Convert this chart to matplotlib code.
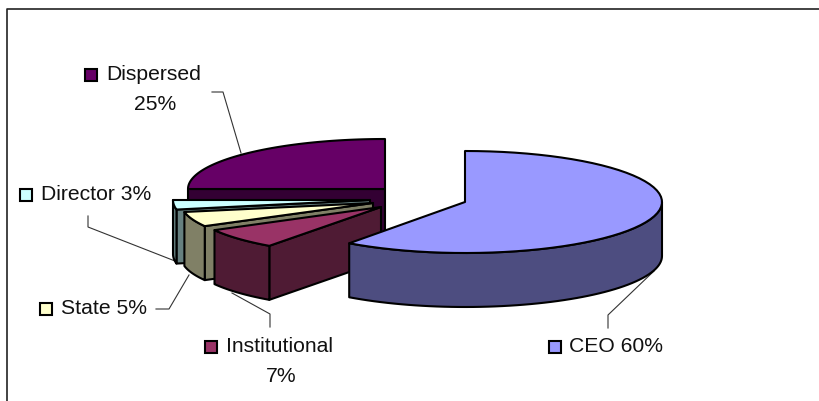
"""
Exploded 3D-style pie of ownership shares, drawn on a pixel-sized axes.
"""
import matplotlib
matplotlib.use('Agg')
import matplotlib.pyplot as plt
from matplotlib.patches import Polygon, Rectangle
import numpy as np

labels = ['CEO', 'Institutional', 'State', 'Director', 'Dispersed']
shares = [60, 7, 5, 3, 25]
top_colors = ['#9999FF', '#993366', '#FFFFCC', '#CCFFFF', '#660066']
side_colors = ['#4D4D80', '#4F1B34', '#808066', '#668080', '#330033']

W, H = 819, 401
DEPTH = 54
# apex and radii of each exploded slice, in pixels
apex = [(465, 202), (381, 207), (373, 203), (370, 200), (385, 189)]
rx = [197, 190, 192, 197, 197]
ry = [51, 48, 48, 51, 50]
draw_order = [4, 3, 2, 1, 0]

plt.rcParams['font.family'] = ['Liberation Sans', 'DejaVu Sans']

fig = plt.figure(figsize=(W / 100, H / 100), dpi=100)
ax = fig.add_axes([0, 0, 1, 1])
ax.set_xlim(0, W)
ax.set_ylim(H, 0)
ax.axis('off')

LW = 1.5
FS = 15.2


def rim(i, a, b, dy=0):
    # a, b in degrees clockwise from 12 o'clock
    cx, cy = apex[i]
    t = np.radians(np.linspace(a, b, 60))
    return np.column_stack([cx + rx[i] * np.sin(t), cy - ry[i] * np.cos(t) + dy])


def add_poly(pts, color, z):
    ax.add_patch(Polygon(pts, closed=True, facecolor=color, edgecolor='black',
                         linewidth=LW, joinstyle='round', zorder=z))


edges = np.concatenate([[0], np.cumsum(shares)]) / sum(shares) * 360
for k, i in enumerate(draw_order):
    a, b = edges[i], edges[i + 1]
    cx, cy = apex[i]
    z = 2 + k
    # cut face at the start angle, if it faces the viewer
    if np.sin(np.radians(a)) < -1e-6:
        p = rim(i, a, a)[0]
        add_poly([(cx, cy), p, (p[0], p[1] + DEPTH), (cx, cy + DEPTH)], side_colors[i], z)
    # outer wall, front half only
    lo, hi = max(a, 90), min(b, 270)
    if hi > lo:
        upper = rim(i, lo, hi)
        lower = rim(i, lo, hi, DEPTH)[::-1]
        add_poly(np.vstack([upper, lower]), side_colors[i], z)
    # top face
    add_poly(np.vstack([[(cx, cy)], rim(i, a, b)]), top_colors[i], z)

# chart frame, left and top only
ax.plot([7, 7, 819], [401, 9, 9], color='#222222', lw=1.2, zorder=1)

label_text = ['CEO 60%', 'Institutional', 'State 5%', 'Director 3%', 'Dispersed']
key_pos = [(549, 341), (205, 341), (40, 303), (20, 189), (85, 69)]
text_pos = [(569, 346), (226, 346), (61, 308), (41, 194), (106, 74)]
for i in range(5):
    kx, ky = key_pos[i]
    ax.add_patch(Rectangle((kx, ky), 12, 12, facecolor=top_colors[i], edgecolor='black',
                           linewidth=1.5, zorder=10))
    ax.text(text_pos[i][0], text_pos[i][1], label_text[i], fontsize=FS, color='#111111',
            ha='left', va='center', zorder=10)
ax.text(155, 105, '25%', fontsize=FS, color='#111111', ha='center', va='center', zorder=10)
ax.text(281, 376, '7%', fontsize=FS, color='#111111', ha='center', va='center', zorder=10)

# leader lines
leaders = [
    ([608, 608, 654], [328, 315, 271]),
    ([270, 270, 232], [327, 314, 293]),
    ([156, 169, 189], [309, 309, 275]),
    ([88, 88, 175], [216, 227, 261]),
    ([212, 223, 241], [92, 92, 153]),
]
for xs, ys in leaders:
    ax.plot(xs, ys, color='#333333', lw=0.8, zorder=1.5)

fig.savefig('out.png', dpi=100, facecolor='white')
